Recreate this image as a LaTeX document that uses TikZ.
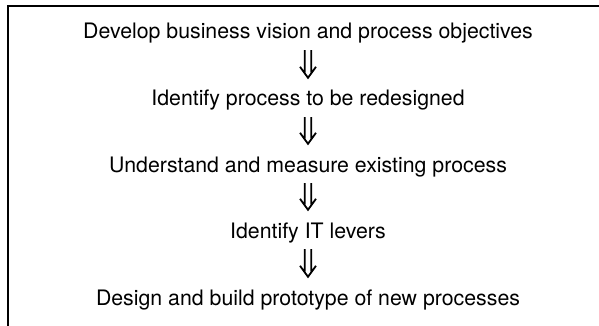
\documentclass[tikz,border=0pt]{standalone}
\usepackage{fontspec}
\setmainfont{TeX Gyre Heros}
\usetikzlibrary{calc}
\begin{document}
\begin{tikzpicture}[x=1pt,y=-1pt,
  stepnode/.style={inner sep=0pt, text height=15.5pt, text depth=4.5pt, font=\fontsize{21.3}{24}\selectfont, anchor=base},
  flow/.style={line width=1.8pt, line join=miter,
    to path={let \p1=(\tikztostart), \p2=(\tikztotarget) in
      (\x1-3.2pt,\y1-6.5pt) -- (\x1-3.2pt,\y2+18pt)
      (\x1+3.2pt,\y1-6.5pt) -- (\x1+3.2pt,\y2+18pt)
      (\x1-8pt,\y2+23.5pt) -- (\x1,\y2+12.5pt) -- (\x1+8pt,\y2+23.5pt)}},
  frame/.style={line width=1.5pt, draw=black}]
\useasboundingbox (0,0) rectangle (599,326);
\clip (0,0) rectangle (599,326);
\draw[frame] (8,6) rectangle (640,360);
\node[stepnode] (s1) at (308,39) {Develop business vision and process objectives};
\node[stepnode] (s2) at (308,106) {Identify process to be redesigned};
\node[stepnode] (s3) at (308,172) {Understand and measure existing process};
\node[stepnode] (s4) at (308,238) {Identify IT levers};
\node[stepnode] (s5) at (308,305) {Design and build prototype of new processes};
\draw[flow] (s1.south) to (s2.north);
\draw[flow] (s2.south) to (s3.north);
\draw[flow] (s3.south) to (s4.north);
\draw[flow] (s4.south) to (s5.north);
\end{tikzpicture}
\end{document}
